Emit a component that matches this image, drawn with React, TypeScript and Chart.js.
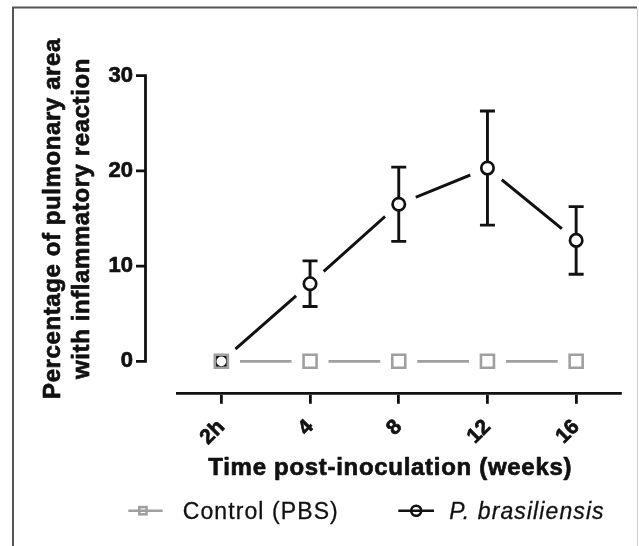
import React, { useEffect, useRef } from 'react';
import { Chart, registerables } from 'chart.js';

Chart.register(...registerables);

// ---- data ----
const categories = ['2h', '4', '8', '12', '16'];
const controlMean = [0, 0, 0, 0, 0];
const pbMean = [0, 8.15, 16.5, 20.3, 12.7];
const pbSem = [0, 2.4, 3.9, 6.0, 3.55];
const yTicks = [0, 10, 20, 30];
const seriesNames = ['Control (PBS)', 'P. brasiliensis'];
const yTitleLines = ['Percentage of pulmonary area', 'with inflammatory reaction'];
const xTitle = 'Time post-inoculation (weeks)';

const GRAY = '#a0a0a0';
const BLACK = '#111111';
const FONT = '"Liberation Sans", Arial, Helvetica, sans-serif';

function drawErrorBars(chart: any) {
  const xs = chart.scales.x;
  const ys = chart.scales.y;
  const ctx = chart.ctx as CanvasRenderingContext2D;
  ctx.save();
  ctx.strokeStyle = BLACK;
  ctx.lineWidth = 2.9;
  pbMean.forEach((m, i) => {
    const e = pbSem[i];
    if (!e) return;
    const px = xs.getPixelForValue(i);
    const yt = ys.getPixelForValue(m + e);
    const yb = ys.getPixelForValue(m - e);
    ctx.beginPath();
    ctx.moveTo(px, yt);
    ctx.lineTo(px, yb);
    ctx.moveTo(px - 7.5, yt);
    ctx.lineTo(px + 7.5, yt);
    ctx.moveTo(px - 7.5, yb);
    ctx.lineTo(px + 7.5, yb);
    ctx.stroke();
  });
  ctx.restore();
}

function boldText(ctx: CanvasRenderingContext2D, t: string, x: number, y: number, w: number) {
  ctx.fillText(t, x, y);
  if (w > 0) {
    ctx.lineWidth = w;
    ctx.strokeText(t, x, y);
  }
}

const decorPlugin = {
  id: 'decor',
  beforeDraw(chart: any) {
    const ctx = chart.ctx as CanvasRenderingContext2D;
    ctx.save();
    ctx.fillStyle = '#ffffff';
    ctx.fillRect(0, 0, chart.width, chart.height);
    ctx.strokeStyle = '#555555';
    ctx.lineWidth = 2;
    ctx.beginPath();
    ctx.moveTo(13, chart.height);
    ctx.lineTo(13, 7.5);
    ctx.lineTo(637, 7.5);
    ctx.stroke();
    ctx.strokeStyle = '#cccccc';
    ctx.lineWidth = 1;
    ctx.beginPath();
    ctx.moveTo(637.5, 8.5);
    ctx.lineTo(637.5, chart.height);
    ctx.stroke();
    ctx.restore();
  },
  afterDatasetDraw(chart: any, args: any) {
    const ds = chart.data.datasets[args.index];
    if (ds && ds.role === 'haloTop') drawErrorBars(chart);
  },
  afterDraw(chart: any) {
    const ctx = chart.ctx as CanvasRenderingContext2D;
    const ys = chart.scales.y;
    const xs = chart.scales.x;
    const area = chart.chartArea;
    ctx.save();
    // detached y axis line
    const ax = area.left - 31.5;
    const yTop = ys.getPixelForValue(yTicks[yTicks.length - 1]);
    const yBot = ys.getPixelForValue(yTicks[0]);
    ctx.strokeStyle = BLACK;
    ctx.lineWidth = 2.8;
    ctx.lineJoin = 'miter';
    ctx.beginPath();
    ctx.moveTo(ax - 9.5, yTop);
    ctx.lineTo(ax, yTop);
    ctx.lineTo(ax, yBot);
    ctx.lineTo(ax - 9.5, yBot);
    ctx.stroke();
    ctx.beginPath();
    yTicks.slice(1, -1).forEach((v) => {
      const py = ys.getPixelForValue(v);
      ctx.moveTo(ax - 9.5, py);
      ctx.lineTo(ax, py);
    });
    ctx.stroke();

    // y title
    ctx.fillStyle = BLACK;
    ctx.strokeStyle = BLACK;
    ctx.lineJoin = 'round';
    (ctx as any).letterSpacing = '0.6px';
    ctx.font = `bold 24px ${FONT}`;
    ctx.textAlign = 'center';
    ctx.textBaseline = 'alphabetic';
    const yc = (yTop + yBot) / 2;
    const baseX = [59.5, 89];
    yTitleLines.forEach((t, i) => {
      ctx.save();
      ctx.translate(baseX[i], yc);
      ctx.rotate(-Math.PI / 2);
      boldText(ctx, t, 0, 0, 0.7);
      ctx.restore();
    });

    // x title
    (ctx as any).letterSpacing = '0.7px';
    const xc = (xs.getPixelForValue(0) + xs.getPixelForValue(categories.length - 1)) / 2 - 8.5;
    boldText(ctx, xTitle, xc, 474.5, 0.7);

    // legend
    const ly = 510.7;
    ctx.lineJoin = 'miter';
    ctx.lineWidth = 2.6;
    ctx.strokeStyle = GRAY;
    ctx.beginPath();
    ctx.moveTo(128.3, ly);
    ctx.lineTo(162.7, ly);
    ctx.stroke();
    ctx.strokeRect(139.3, ly - 3.6, 7.2, 7.2);

    ctx.strokeStyle = BLACK;
    ctx.beginPath();
    ctx.moveTo(398.3, ly);
    ctx.lineTo(434, ly);
    ctx.stroke();
    ctx.beginPath();
    ctx.arc(416.2, ly, 5, 0, Math.PI * 2);
    ctx.stroke();

    ctx.fillStyle = BLACK;
    ctx.strokeStyle = BLACK;
    ctx.textAlign = 'left';
    ctx.lineJoin = 'round';
    (ctx as any).letterSpacing = '1.1px';
    ctx.font = `23px ${FONT}`;
    boldText(ctx, seriesNames[0], 182.7, 518.5, 0.3);
    ctx.font = `italic 23px ${FONT}`;
    boldText(ctx, seriesNames[1], 449.3, 518.5, 0.3);
    (ctx as any).letterSpacing = '0px';
    ctx.restore();
  },
};

export default function App() {
  const ref = useRef<HTMLCanvasElement | null>(null);

  useEffect(() => {
    const canvas = ref.current;
    if (!canvas) return;
    const chart = new Chart(canvas, {
      type: 'line',
      data: {
        labels: categories,
        datasets: [
          {
            label: seriesNames[1],
            data: pbMean,
            borderColor: BLACK,
            borderWidth: 3,
            pointRadius: 0,
            fill: false,
            tension: 0,
            order: 6,
            clip: false,
          } as any,
          {
            label: seriesNames[0],
            data: controlMean,
            borderColor: GRAY,
            borderWidth: 2.8,
            pointRadius: 0,
            fill: false,
            tension: 0,
            order: 5,
            clip: false,
          } as any,
          {
            label: 'halo-control',
            data: controlMean,
            showLine: false,
            pointRadius: 18.5,
            pointBorderWidth: 0,
            pointBackgroundColor: '#ffffff',
            pointBorderColor: '#ffffff',
            order: 4,
            clip: false,
          } as any,
          {
            label: 'halo-pb',
            role: 'haloTop',
            data: pbMean,
            showLine: false,
            pointRadius: 18.5,
            pointBorderWidth: 0,
            pointBackgroundColor: '#ffffff',
            pointBorderColor: '#ffffff',
            order: 3,
            clip: false,
          } as any,
          {
            label: seriesNames[1] + ' markers',
            data: pbMean,
            showLine: false,
            pointStyle: 'circle',
            pointRadius: 6.2,
            pointBorderWidth: 2.7,
            pointBorderColor: BLACK,
            pointBackgroundColor: '#ffffff',
            order: 2,
            clip: false,
          } as any,
          {
            label: seriesNames[0] + ' markers',
            data: controlMean,
            showLine: false,
            pointStyle: 'rect',
            pointRadius: 9.2,
            pointBorderWidth: 2.6,
            pointBorderColor: GRAY,
            pointBackgroundColor: 'rgba(0,0,0,0)',
            order: 1,
            clip: false,
          } as any,
        ],
      },
      options: {
        animation: false,
        responsive: false,
        events: [],
        layout: { padding: { top: 75.7, right: 14.8, bottom: 92.7, left: 0 } },
        plugins: {
          legend: { display: false },
          tooltip: { enabled: false },
          title: { display: false },
        },
        scales: {
          x: {
            type: 'category',
            offset: true,
            grid: {
              display: true,
              drawOnChartArea: false,
              drawTicks: true,
              tickLength: 10.5,
              color: BLACK,
              lineWidth: 2.8,
            },
            border: { display: true, color: BLACK, width: 2.8 },
            ticks: {
              color: BLACK,
              font: { family: FONT, size: 21, weight: 'bold' },
              textStrokeColor: BLACK,
              textStrokeWidth: 0.7,
              minRotation: 45,
              maxRotation: 45,
              padding: 11,
              autoSkip: false,
            },
            afterFit: (s: any) => {
              s.height = 60;
            },
          },
          y: {
            type: 'linear',
            min: -3.36,
            max: 30,
            afterBuildTicks: (s: any) => {
              s.ticks = yTicks.map((v) => ({ value: v }));
            },
            grid: { display: false, drawTicks: false },
            border: { display: false },
            ticks: {
              color: BLACK,
              font: { family: FONT, size: 22, weight: 'bold' },
              textStrokeColor: BLACK,
              textStrokeWidth: 0.7,
              padding: 44,
            },
            afterFit: (s: any) => {
              s.width = 177;
            },
          },
        } as any,
      },
      plugins: [decorPlugin],
    } as any);
    return () => chart.destroy();
  }, []);

  return (
    <canvas
      ref={ref}
      width={639}
      height={546}
      style={{ position: 'absolute', left: 0, top: 0, width: 639, height: 546, display: 'block' }}
    />
  );
}
